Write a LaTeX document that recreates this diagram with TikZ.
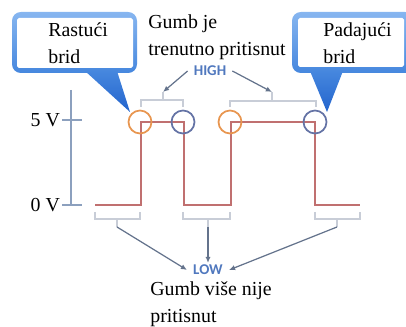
\documentclass[tikz,border=0pt]{standalone}
\usepackage{fontspec}
\setmainfont{Liberation Serif}
\newfontfamily\lblfont{Carlito}
\usetikzlibrary{arrows.meta,positioning}

\definecolor{axisgray}{RGB}{140,160,190}
\definecolor{wavered}{RGB}{192,112,112}
\definecolor{riseorange}{RGB}{232,150,80}
\definecolor{fallblue}{RGB}{100,115,165}
\definecolor{bracegray}{RGB}{200,205,215}
\definecolor{arrowgray}{RGB}{100,115,140}
\definecolor{lvlblue}{RGB}{80,120,190}
\definecolor{calltop}{RGB}{135,182,240}
\definecolor{callmid}{RGB}{70,135,222}
\definecolor{callbot}{RGB}{35,100,205}

\begin{document}
\begin{tikzpicture}[x=0.02cm,y=-0.02cm,>=Latex,
  txt/.style={font=\fontsize{11.3}{15.5}\selectfont,align=left,inner sep=0pt},
  lvl/.style={font=\lblfont\bfseries\fontsize{8.5}{10}\selectfont,text=lvlblue,inner ysep=1pt},
  ring/.style={circle,line width=1pt,minimum size=0.46cm,inner sep=0pt},
  brace/.style={draw=bracegray,line width=0.9pt},
  pointer/.style={draw=arrowgray,line width=0.7pt,-{Latex[length=3.5pt,width=3pt]}},
  wave/.style={draw=wavered,line width=0.75pt},
  callout/.style={top color=calltop,bottom color=callmid},
  calltail/.style={top color=callmid,bottom color=callbot}]
\useasboundingbox (0,0) rectangle (406,327);
\clip (0,0) rectangle (406,327);

% callouts
\shade[callout,rounded corners=5pt] (12,12) rectangle (137,73);
\shade[calltail] (85,71) -- (130,112) -- (117,71) -- cycle;
\fill[white,rounded corners=1pt] (17,18) rectangle (133,68);
\shade[callout,rounded corners=5pt] (292,12) rectangle (414,73);
\shade[calltail] (310,71) -- (327,112) -- (343,71) -- cycle;
\fill[white,rounded corners=1pt] (298,18) rectangle (404,67);
\node[txt,anchor=west] (rastuci) at (48,43) {Rastući\\brid};
\node[txt,anchor=west] (padajuci) at (323,43) {Padajući\\brid};

% texts
\node[txt,anchor=west] (pressed) at (148,37) {Gumb je\\trenutno pritisnut};
\node[txt,anchor=west] (released) at (150,304) {Gumb više nije\\pritisnut};
\node[lvl] (high) at (210,71) {HIGH};
\node[lvl] (low) at (208,270) {LOW};

% voltage axis
\coordinate (axtop) at (71,90);
\coordinate (axbot) at (71,205);
\coordinate (tick5) at (62,120);
\coordinate (tick0) at (62,205);
\draw[draw=axisgray,line width=0.75pt] (axtop) -- (axbot);
\draw[draw=axisgray,line width=0.75pt] (tick5) -- ++(20,0);
\draw[draw=axisgray,line width=0.75pt] (tick0) -- ++(20,0);
\node[txt,left=1pt of tick5] (v5) {5 V};
\node[txt,left=1pt of tick0] (v0) {0 V};

% signal
\draw[wave] (95,205) -- (141,205) -- (141,122) -- (184,122) -- (184,205)
  -- (231,205) -- (231,122) -- (315,122) -- (315,205) -- (360,205);

% edges
\node[ring,draw=riseorange] (rise1) at (140,122) {};
\node[ring,draw=fallblue] (fall1) at (183,122) {};
\node[ring,draw=riseorange] (rise2) at (230,122) {};
\node[ring,draw=fallblue] (fall2) at (315,122) {};

% brackets
\coordinate (hb1) at (163,92);
\coordinate (hb2) at (272,92);
\draw[brace] (141,107) -- (141,100) -- (183,100) -- (183,107);
\draw[brace] (163,100) -- (hb1);
\draw[brace] (230,107) -- (230,101) -- (316,101) -- (316,107);
\draw[brace] (272,101) -- (hb2);
\coordinate (lb1) at (117,227);
\coordinate (lb2) at (208,227);
\coordinate (lb3) at (337,227);
\draw[brace] (95,212) -- (95,219) -- (140,219) -- (140,212);
\draw[brace] (117,219) -- (lb1);
\draw[brace] (183,212) -- (183,219) -- (230,219) -- (230,212);
\draw[brace] (208,219) -- (lb2);
\draw[brace] (315,212) -- (315,219) -- (360,219) -- (360,212);
\draw[brace] (337,219) -- (lb3);

% arrows
\draw[pointer] (high.west) -- (hb1);
\draw[pointer] (high.east) -- (hb2);
\draw[pointer] (lb1) -- (low.west);
\draw[pointer] (lb2) -- (low.north);
\draw[pointer] (lb3) -- (low.east);
\end{tikzpicture}
\end{document}
